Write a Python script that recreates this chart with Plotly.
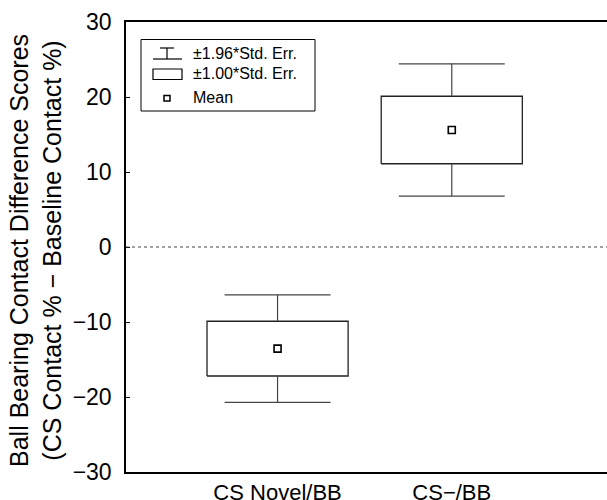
import plotly.graph_objects as go

# ---- data ----
categories = ["CS Novel/BB", "CS\u2212/BB"]
cat_pos = [0, 1]
means = [-13.55, 15.6]
std_err = [3.65, 4.5]
y_ticks = [-30, -20, -10, 0, 10, 20, 30]
y_tick_text = ["\u221230", "\u221220", "\u221210", "0", "10", "20", "30"]
legend_labels = ["\u00b11.96*Std. Err.", "\u00b11.00*Std. Err.", "Mean"]

# ---- style / geometry ----
W, H = 607, 500
L, R, T, B = 126, 0, 22, 28
PW, PH = W - L - R, H - T - B
FONT = "Liberation Sans, Arial, sans-serif"
BOX_HW = 0.405
CAP_HW = 0.304
LINE_C = "#222222"

def px(xp):
    return (xp - L) / PW

def py(yp):
    return (H - B - yp) / PH

fig = go.Figure()

# boxes (±1 SE)
bx, by = [], []
for c, m, s in zip(cat_pos, means, std_err):
    lo, hi = m - s, m + s
    bx += [c - BOX_HW, c + BOX_HW, c + BOX_HW, c - BOX_HW, c - BOX_HW, None]
    by += [lo, lo, hi, hi, lo, None]
fig.add_trace(go.Scatter(x=bx, y=by, mode="lines", line=dict(color=LINE_C, width=1.3),
                         hoverinfo="skip", showlegend=False))

# whiskers (±1.96 SE)
wx, wy = [], []
for c, m, s in zip(cat_pos, means, std_err):
    lo, hi = m - s, m + s
    wlo, whi = m - 1.96 * s, m + 1.96 * s
    wx += [c, c, None, c - CAP_HW, c + CAP_HW, None, c, c, None, c - CAP_HW, c + CAP_HW, None]
    wy += [hi, whi, None, whi, whi, None, lo, wlo, None, wlo, wlo, None]
fig.add_trace(go.Scatter(x=wx, y=wy, mode="lines", line=dict(color="#444444", width=1.2),
                         hoverinfo="skip", showlegend=False))

# means
fig.add_trace(go.Scatter(x=cat_pos, y=means, mode="markers",
                         marker=dict(symbol="square-open", size=7, color="black",
                                     line=dict(width=1.6, color="black")),
                         showlegend=False))

shapes = []
# zero dotted line
shapes.append(dict(type="line", xref="paper", yref="y", x0=0, x1=1, y0=0, y1=0,
                   line=dict(color="#444444", width=1, dash="dot")))

# manual legend
shapes.append(dict(type="rect", xref="paper", yref="paper",
                   x0=px(141), x1=px(315), y0=py(111), y1=py(39.5),
                   line=dict(color="black", width=1), fillcolor="white", layer="above"))
# whisker symbol
shapes.append(dict(type="line", xref="paper", yref="paper", x0=px(160), x1=px(174),
                   y0=py(48), y1=py(48), line=dict(color="black", width=1.2)))
shapes.append(dict(type="line", xref="paper", yref="paper", x0=px(167), x1=px(167),
                   y0=py(48), y1=py(59), line=dict(color="black", width=1.2)))
shapes.append(dict(type="line", xref="paper", yref="paper", x0=px(153), x1=px(182),
                   y0=py(59), y1=py(59), line=dict(color="black", width=1.2)))
# box symbol
shapes.append(dict(type="rect", xref="paper", yref="paper", x0=px(153), x1=px(182),
                   y0=py(79.5), y1=py(69), line=dict(color="black", width=1.2)))
# mean symbol
shapes.append(dict(type="rect", xref="paper", yref="paper", x0=px(164), x1=px(170),
                   y0=py(101), y1=py(95.5), line=dict(color="black", width=1.5)))

annotations = []
for lab, yp in zip(legend_labels, [53, 74, 98]):
    annotations.append(dict(text=lab, xref="paper", yref="paper", x=px(191), y=py(yp),
                            xanchor="left", yanchor="middle", showarrow=False,
                            font=dict(family=FONT, size=16, color="black")))

annotations.append(dict(
    text="Ball Bearing Contact Difference Scores<br>(CS Contact % \u2212 Baseline Contact %)",
    xref="paper", yref="paper", x=px(35), y=py(251), xanchor="center", yanchor="middle",
    textangle=-90, showarrow=False, font=dict(family=FONT, size=25, color="black")))

fig.update_layout(
    width=W, height=H,
    margin=dict(l=L, r=R, t=T, b=B, autoexpand=False),
    paper_bgcolor="white", plot_bgcolor="white",
    showlegend=False,
    shapes=shapes, annotations=annotations,
    font=dict(family=FONT, color="black"),
    xaxis=dict(range=[-0.870, 1.891], tickvals=cat_pos, ticktext=categories,
               showgrid=False, zeroline=False, showline=True, linecolor="black",
               linewidth=1.6, mirror=True, ticks="", automargin=False,
               tickfont=dict(family=FONT, size=22, color="black")),
    yaxis=dict(range=[-30, 30], tickvals=y_ticks, ticktext=y_tick_text,
               showgrid=False, zeroline=False,
               showline=True, linecolor="black", linewidth=1.5, mirror=False,
               ticks="inside", ticklen=4, tickcolor="black", tickwidth=1,
               ticklabelstandoff=8, automargin=False,
               tickfont=dict(family=FONT, size=23, color="black")),
)

fig.write_html(
    "out.html",
    config={"displayModeBar": False},
    post_script="document.body.style.margin='0';document.body.style.overflow='hidden';",
)
